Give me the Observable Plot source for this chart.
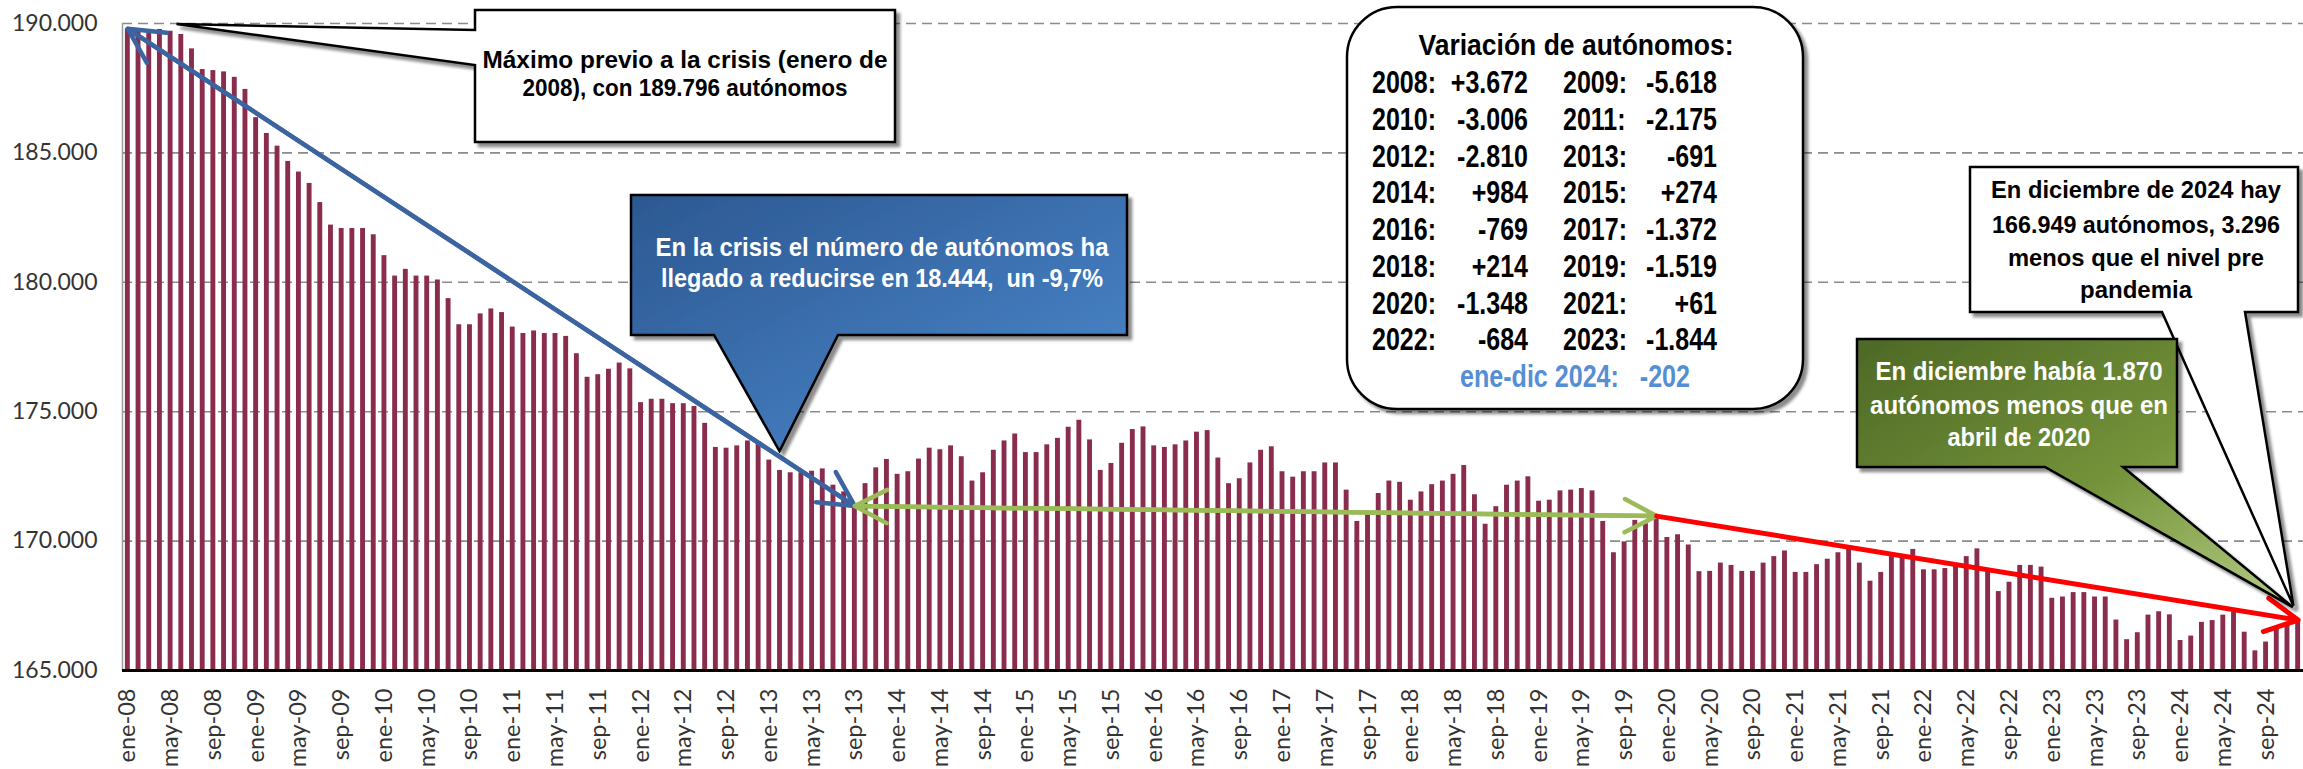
<!DOCTYPE html>
<html>
<head>
<meta charset="utf-8">
<script src="https://cdn.jsdelivr.net/npm/d3@7"></script>
<script src="https://cdn.jsdelivr.net/npm/@observablehq/plot@0.6"></script>
<style>
  html, body { margin: 0; padding: 0; background: #fff; overflow: hidden; }
  #chart { width: 2303px; height: 769px; }
</style>
</head>
<body>
<div id="chart"></div>
<script>
// ---------------- DATA ----------------
const monthNames = ["ene","feb","mar","abr","may","jun","jul","ago","sep","oct","nov","dic"];
const years = [2008,2009,2010,2011,2012,2013,2014,2015,2016,2017,2018,2019,2020,2021,2022,2023,2024];

const v2008 = [189796,189660,189664,189770,189700,189575,189020,188220,188180,188130,187920,187454];
const v2009 = [186360,185750,185260,184670,184260,183820,183080,182210,182080,182080,182080,181836];
const v2010 = [181030,180240,180500,180240,180240,180090,179370,178360,178360,178780,178970,178830];
const v2011 = [178270,178020,178120,178020,178020,177910,177240,176330,176430,176640,176880,176655];
const v2012 = [175350,175480,175480,175310,175310,175200,174550,173620,173590,173680,173870,173845];
const v2013 = [173130,172730,172640,172640,172700,172790,172160,171900,171352,172220,172830,173154];
const v2014 = [172580,172680,173170,173590,173530,173680,173260,172320,172640,173510,173870,174138];
const v2015 = [173420,173420,173720,173970,174400,174670,173910,172730,173000,173780,174310,174412];
const v2016 = [173680,173620,173720,173870,174210,174270,173210,172220,172410,173020,173510,173643];
const v2017 = [172680,172470,172680,172680,173020,173020,171970,170760,171070,171840,172320,172271];
const v2018 = [171580,171900,172180,172320,172580,172920,171790,170650,171330,172160,172320,172485];
const v2019 = [171540,171580,171940,171970,172030,171940,170760,169550,169970,170800,170670,170966];
const v2020 = [170140,170245,169850,168819,168830,169150,169060,168830,168830,169150,169400,169618];
const v2021 = [168790,168790,169090,169300,169550,169800,169150,168450,168790,169400,169400,169679];
const v2022 = [168890,168890,168940,169090,169400,169700,168790,168050,168410,169060,169060,168995];
const v2023 = [167790,167840,168010,168010,167840,167840,166950,166190,166460,167140,167270,167151];
const v2024 = [166160,166330,166860,166930,167140,167240,166480,165760,166100,166690,166820,166949];

const yTicks = [165000,170000,175000,180000,185000,190000];
const labelStep = 4;

const varYears  = [2008,2009,2010,2011,2012,2013,2014,2015,2016,2017,2018,2019,2020,2021,2022,2023];
const varValues = [3672,-5618,-3006,-2175,-2810,-691,984,274,-769,-1372,214,-1519,-1348,61,-684,-1844];
const ytdLabel = "ene-dic 2024:";
const ytdValue = -202;

// key points (month index, value)
const peak = {i: 0, v: 189796};
const trough = {i: 68, v: 171352};
const preCovid = {i: 143, v: 170966};
const last = {i: 203, v: 166949};

// callout pointer targets (month index, value)
const maxTip = {x: 5.1, y: 189960};
const blueTip = {x: 61.5, y: 173460};
const greenTip = {x: 203.05, y: 167430};
const whiteTip = {x: 203.1, y: 167480};

// ---------------- BUILD ----------------
const series = [v2008,v2009,v2010,v2011,v2012,v2013,v2014,v2015,v2016,v2017,v2018,v2019,v2020,v2021,v2022,v2023,v2024];
const values = series.flat();
const labels = years.flatMap(y => monthNames.map(m => `${m}-${String(y).slice(2)}`));
const data = values.map((v, i) => ({i, v, label: labels[i]}));
const tickPos = d3.range(0, values.length, labelStep).map(i => i + 0.5);

const thousands = v => d3.format(",")(v).replace(/,/g, ".");
const signed = v => d3.format("+,")(v).replace(/,/g, ".").replace("\u2212", "-");

const seg = (a, b) => [{x1: a.i + 0.5, y1: a.v, x2: b.i + 0.5, y2: b.v}];
const rev = s => s.map(d => ({x1: d.x2, y1: d.y2, x2: d.x1, y2: d.y1}));
const blueSeg = seg(peak, trough);
const greenSeg = seg(trough, preCovid);
const redSeg = seg(preCovid, last);
const arrowOpts = {x1: "x1", y1: "y1", x2: "x2", y2: "y2"};

const chart = Plot.plot({
  width: 2303,
  height: 769,
  marginLeft: 122,
  marginRight: 0,
  marginTop: 23,
  marginBottom: 99,
  style: {fontFamily: "Lato, 'Open Sans', sans-serif", fontSize: "23px", color: "#333", background: "#fff"},
  x: {type: "linear", domain: [0, values.length], label: null},
  y: {domain: [165000, 190000], label: null},
  marks: [
    Plot.gridY(yTicks, {stroke: "#8a8a8a", strokeOpacity: 1, strokeWidth: 1.6, strokeDasharray: "10,6"}),
    Plot.ruleX([0], {stroke: "#9a9a9a", strokeWidth: 1.5}),
    Plot.rectY(data, {x1: d => d.i, x2: d => d.i + 1, y1: 165000, y2: "v", fill: "#8a2c4e", insetLeft: 2.9, insetRight: 2.9}),
    Plot.ruleY([165000], {stroke: "#000", strokeWidth: 3.2}),
    Plot.axisY(yTicks, {tickFormat: thousands, tickSize: 0, tickPadding: 25, fontSize: 23, label: null}),
    Plot.axisX(tickPos, {tickFormat: d => labels[Math.floor(d)], tickRotate: -90, tickSize: 0, tickPadding: 18, fontSize: 23.5, label: null}),
    Plot.arrow(blueSeg, {...arrowOpts, stroke: "#3b64a0", strokeWidth: 4.5, headLength: 13, headAngle: 55}),
    Plot.arrow(rev(blueSeg), {...arrowOpts, stroke: "#3b64a0", strokeWidth: 4.5, headLength: 13, headAngle: 55}),
    Plot.arrow(greenSeg, {...arrowOpts, stroke: "#9bbb59", strokeWidth: 4.5, headLength: 12, headAngle: 55}),
    Plot.arrow(rev(greenSeg), {...arrowOpts, stroke: "#9bbb59", strokeWidth: 4.5, headLength: 12, headAngle: 55}),
    Plot.arrow(redSeg, {...arrowOpts, stroke: "#ff0000", strokeWidth: 5, headLength: 11, headAngle: 55})
  ]
});
document.getElementById("chart").appendChild(chart);

// ---------------- ANNOTATIONS ----------------
const sx = chart.scale("x"), sy = chart.scale("y");
const P = d => [sx.apply(d.x), sy.apply(d.y)];
const svg = d3.select(chart);
const defs = svg.append("defs");
const f = defs.append("filter").attr("id", "sh").attr("x", "-10%").attr("y", "-10%").attr("width", "130%").attr("height", "140%");
f.append("feDropShadow").attr("dx", 4).attr("dy", 4).attr("stdDeviation", 1.6).attr("flood-color", "#000").attr("flood-opacity", 0.45);
function grad(id, stops) {
  const g = defs.append("linearGradient").attr("id", id).attr("x1", 0).attr("y1", 0).attr("x2", 1).attr("y2", 1);
  stops.forEach(([o, c]) => g.append("stop").attr("offset", o).attr("stop-color", c));
}
grad("gBlue", [[0, "#2c5891"], [1, "#4d8ad0"]]);
grad("gGreen", [[0, "#4d6825"], [0.55, "#74933a"], [1, "#b6cd86"]]);

const layer = svg.append("g");
const FONT = "'Liberation Sans', Arial, Helvetica, sans-serif";
function txt(x, y, s, o = {}) {
  const t = layer.append("text").attr("x", x).attr("y", y)
    .attr("text-anchor", o.anchor || "middle")
    .attr("font-family", FONT).attr("font-weight", "bold")
    .attr("font-size", o.size || 25).attr("fill", o.fill || "#000").text(s);
  if (o.pre) t.style("white-space", "pre");
  if (o.len) t.attr("textLength", o.len).attr("lengthAdjust", "spacingAndGlyphs");
  else if (o.sx) {
    const w = t.node().getComputedTextLength();
    t.attr("textLength", (w * o.sx).toFixed(1)).attr("lengthAdjust", "spacingAndGlyphs");
  }
  return t;
}
function shape(d, fill) {
  layer.append("path").attr("d", d).attr("fill", fill).attr("stroke", "#000").attr("stroke-width", 2.5)
    .attr("stroke-linejoin", "miter").attr("filter", "url(#sh)");
}
function bottomCallout(L, T, R, B, bl, br, tip) {
  return `M${L},${T}H${R}V${B}H${br}L${tip[0]},${tip[1]}L${bl},${B}H${L}Z`;
}

// 1. Máximo previo
{
  const [tx, ty] = P(maxTip);
  shape(`M475,10H895V142H475V65L${tx},${ty}L475,30Z`, "#fff");
  txt(685, 68, "Máximo previo a la crisis (enero de", {size: 24, len: 405});
  txt(685, 96, "2008), con 189.796 autónomos", {size: 24, len: 325});
}
// 2. Blue crisis callout
{
  shape(bottomCallout(631, 195, 1127, 335, 714, 838, P(blueTip)), "url(#gBlue)");
  txt(882, 256, "En la crisis el número de autónomos ha", {size: 25, len: 453, fill: "#fff"});
  txt(882, 287, "llegado a reducirse en 18.444,  un -9,7%", {size: 25, len: 442, fill: "#fff", pre: true});
}
// 3. Variation box
{
  layer.append("rect").attr("x", 1347).attr("y", 7).attr("width", 456).attr("height", 402).attr("rx", 50)
    .attr("fill", "#fff").attr("stroke", "#000").attr("stroke-width", 2.5).attr("filter", "url(#sh)");
  txt(1576, 55, "Variación de autónomos:", {size: 30, len: 315});
  varYears.forEach((yr, k) => {
    const row = Math.floor(k / 2), col = k % 2;
    const y = 93 + row * 36.75;
    const xs = col === 0 ? 1372 : 1563;
    const xe = col === 0 ? 1528 : 1717;
    txt(xs, y, `${yr}:`, {size: 30.5, anchor: "start", sx: 0.82});
    txt(xe, y, signed(varValues[k]), {size: 30.5, anchor: "end", sx: 0.82});
  });
  txt(1575, 387, `${ytdLabel}   ${ytdValue}`, {size: 30.5, len: 230, fill: "#558ed5", pre: true});
}
// 4. White Dec-2024 callout
{
  shape(bottomCallout(1970, 167, 2298, 312, 2162, 2245, P(whiteTip)), "#fff");
  txt(2136, 198, "En diciembre de 2024 hay", {size: 24.5, len: 290});
  txt(2136, 233, "166.949 autónomos, 3.296", {size: 24.5, len: 288});
  txt(2136, 266, "menos que el nivel pre", {size: 24.5, len: 256});
  txt(2136, 298, "pandemia", {size: 24.5, len: 112});
}
// 5. Green callout
{
  shape(bottomCallout(1857, 339, 2177, 467, 2045, 2123, P(greenTip)), "url(#gGreen)");
  txt(2019, 380, "En diciembre había 1.870", {size: 25.5, len: 287, fill: "#fff"});
  txt(2019, 414, "autónomos menos que en", {size: 25.5, len: 298, fill: "#fff"});
  txt(2019, 446, "abril de 2020", {size: 25.5, len: 143, fill: "#fff"});
}
</script>
</body>
</html>
